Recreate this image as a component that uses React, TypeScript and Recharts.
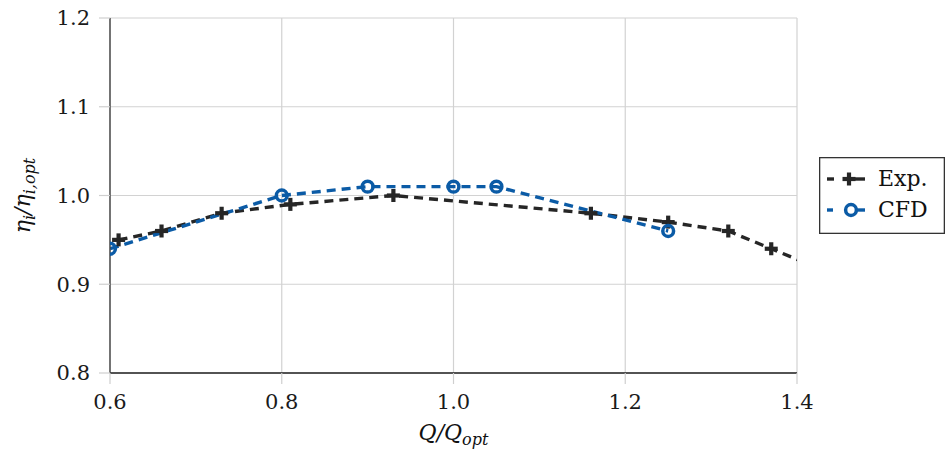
import { LineChart, Line, XAxis, YAxis, CartesianGrid, Legend, Label } from 'recharts'

// flow ratio Q/Q_opt vs. relative internal efficiency
const xTicks = [0.6, 0.8, 1.0, 1.2, 1.4]
const yTicks = [0.8, 0.9, 1.0, 1.1, 1.2]

const expFlow = [0.61, 0.66, 0.73, 0.81, 0.93, 1.16, 1.25, 1.32, 1.37, 1.45]
const expEff = [0.95, 0.96, 0.98, 0.99, 1.0, 0.98, 0.97, 0.96, 0.94, 0.908]

const cfdFlow = [0.6, 0.8, 0.9, 1.0, 1.05, 1.25]
const cfdEff = [0.94, 1.0, 1.01, 1.01, 1.01, 0.96]

const expData = expFlow.map((q, i) => ({ q, eta: expEff[i] }))
const cfdData = cfdFlow.map((q, i) => ({ q, eta: cfdEff[i] }))

const FONT = 'DejaVu Serif'
const BLACK = '#262626'
const BLUE = '#0b5ba6'

function PlusMark({ cx, cy }: { cx: number; cy: number }) {
  return (
    <g fill={BLACK}>
      <rect x={cx - 6.5} y={cy - 2.1} width={13} height={4.2} />
      <rect x={cx - 2.1} y={cy - 6.5} width={4.2} height={13} />
    </g>
  )
}

function RingMark({ cx, cy }: { cx: number; cy: number }) {
  return <circle cx={cx} cy={cy} r={5.4} fill="none" stroke={BLUE} strokeWidth={3.5} />
}

function LegendBox() {
  return (
    <svg width={126} height={77} style={{ display: 'block' }}>
      <rect x={0.65} y={0.65} width={124.7} height={75.7} fill="#fff" stroke="#333" strokeWidth={1.3} />
      {/* Exp. */}
      <line x1={8} y1={22} x2={15} y2={22} stroke={BLACK} strokeWidth={3.4} />
      <line x1={36} y1={22} x2={46} y2={22} stroke={BLACK} strokeWidth={3.4} />
      <PlusMark cx={30} cy={22} />
      <text x={59} y={29} style={{ fontFamily: FONT, fontSize: 22 }} fill="#111">Exp.</text>
      {/* CFD */}
      <line x1={8} y1={53} x2={14} y2={53} stroke={BLUE} strokeWidth={3.4} />
      <line x1={38} y1={53} x2={46} y2={53} stroke={BLUE} strokeWidth={3.4} />
      <RingMark cx={32} cy={53} />
      <text x={59} y={60} style={{ fontFamily: FONT, fontSize: 22 }} fill="#111">CFD</text>
    </svg>
  )
}

export default function App() {
  return (
    <div style={{ position: 'absolute', left: 0, top: 0, background: '#fff', fontFamily: FONT }}>
      <LineChart width={946} height={452} margin={{ top: 18, right: 149, left: 0, bottom: 0 }} style={{ fontFamily: FONT }}>
        <CartesianGrid stroke="#d2d2d2" strokeWidth={1.2} />
        <XAxis
          type="number"
          dataKey="q"
          domain={[0.6, 1.4]}
          ticks={xTicks}
          allowDataOverflow
          height={79}
          tickSize={11}
          tickMargin={10}
          tickFormatter={(v: number) => v.toFixed(1)}
          tick={{ fill: '#1a1a1a', style: { fontFamily: FONT, fontSize: 21 } }}
          tickLine={{ stroke: '#cfcfcf', strokeWidth: 1.2 }}
          axisLine={{ stroke: '#222', strokeWidth: 1.4 }}
        >
          <Label
            content={({ viewBox }: any) => (
              <text
                x={viewBox.x + viewBox.width / 2}
                y={viewBox.y + 67}
                textAnchor="middle"
                style={{ fontFamily: FONT, fontStyle: 'italic', fontSize: 22 }}
                fill="#111"
              >
                Q/Q<tspan dy={5} style={{ fontSize: 16 }}>opt</tspan>
              </text>
            )}
          />
        </XAxis>
        <YAxis
          type="number"
          domain={[0.8, 1.2]}
          ticks={yTicks}
          allowDataOverflow
          width={110}
          tickSize={11}
          tickMargin={9}
          tickFormatter={(v: number) => v.toFixed(1)}
          tick={{ fill: '#1a1a1a', style: { fontFamily: FONT, fontSize: 21 } }}
          tickLine={{ stroke: '#cfcfcf', strokeWidth: 1.2 }}
          axisLine={{ stroke: '#444', strokeWidth: 1.4 }}
        >
          <Label
            content={({ viewBox }: any) => {
              const cx = 30
              const cy = viewBox.y + viewBox.height / 2
              return (
                <text
                  x={cx}
                  y={cy}
                  transform={`rotate(-90, ${cx}, ${cy})`}
                  textAnchor="middle"
                  style={{ fontFamily: FONT, fontStyle: 'italic', fontSize: 22 }}
                  fill="#111"
                >
                  η<tspan dy={5} style={{ fontSize: 16 }}>i</tspan>
                  <tspan dy={-5}>/η</tspan>
                  <tspan dy={5} style={{ fontSize: 16 }}>i,opt</tspan>
                </text>
              )
            }}
          />
        </YAxis>
        <Legend
          layout="horizontal"
          verticalAlign="middle"
          align="center"
          width={126}
          height={77}
          wrapperStyle={{ left: 819, top: 157, width: 126, height: 77 }}
          content={() => <LegendBox />}
        />
        <Line
          data={expData}
          dataKey="eta"
          name="Exp."
          stroke={BLACK}
          strokeWidth={3.4}
          strokeDasharray="9 6"
          isAnimationActive={false}
          dot={(p: any) => <PlusMark key={`e${p.index}`} cx={p.cx} cy={p.cy} />}
          activeDot={false}
        />
        <Line
          data={cfdData}
          dataKey="eta"
          name="CFD"
          stroke={BLUE}
          strokeWidth={3.4}
          strokeDasharray="9 6"
          isAnimationActive={false}
          dot={(p: any) => <RingMark key={`c${p.index}`} cx={p.cx} cy={p.cy} />}
          activeDot={false}
        />
      </LineChart>
    </div>
  )
}
